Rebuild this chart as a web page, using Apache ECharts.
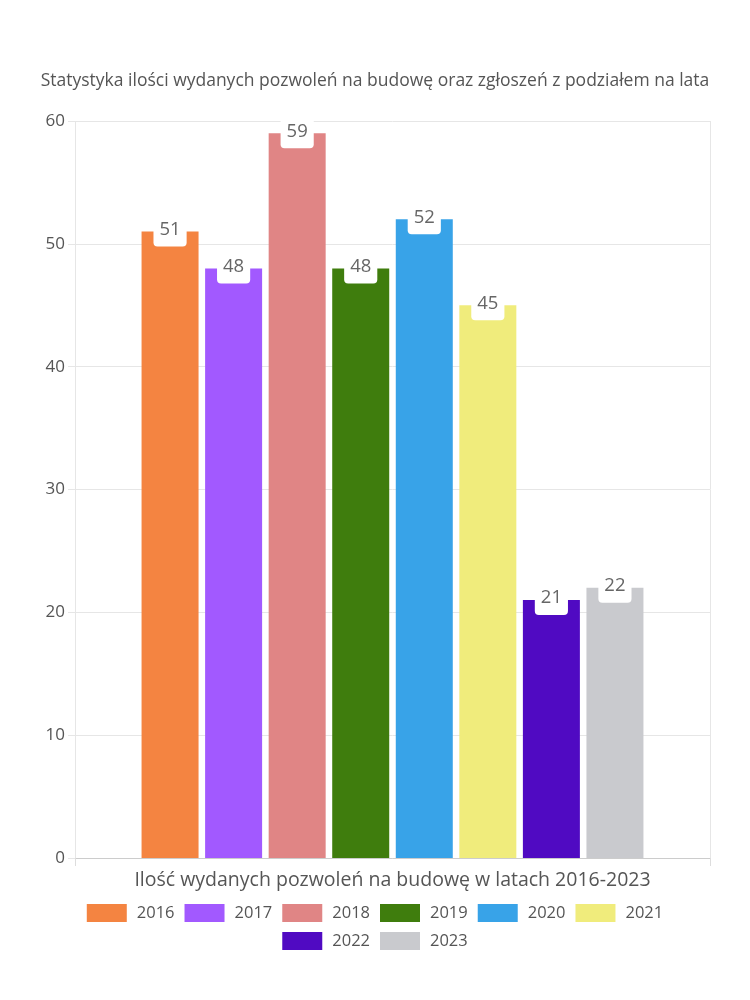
<!DOCTYPE html>
<html>
<head>
<meta charset="utf-8">
<script src="https://cdn.jsdelivr.net/npm/echarts@6/dist/echarts.min.js"></script>
<style>html,body{margin:0;padding:0;background:#fff;}#c{width:750px;height:1000px;}</style>
</head>
<body>
<div id="c"></div>
<script>
const titleText = 'Statystyka ilości wydanych pozwoleń na budowę oraz zgłoszeń z podziałem na lata';
const categories = ['Ilość wydanych pozwoleń na budowę w latach 2016-2023'];
const seriesNames = ['2016', '2017', '2018', '2019', '2020', '2021', '2022', '2023'];
const seriesValues = [51, 48, 59, 48, 52, 45, 21, 22];
const seriesColors = ['#F48441', '#A259FF', '#E08585', '#3F7D0D', '#38A3E8', '#F0EC7C', '#500AC2', '#C9CACE'];
const yTicks = [0, 10, 20, 30, 40, 50, 60];
const legendRow1 = seriesNames.slice(0, 6);
const legendRow2 = seriesNames.slice(6);

const FONT = '"Open Sans", "Noto Sans", sans-serif';
const chart = echarts.init(document.getElementById('c'), null, {renderer: 'canvas'});
const series = seriesNames.map((n, i) => ({
  name: n,
  type: 'bar',
  data: [seriesValues[i]],
  barWidth: 57,
  barGap: '11.5%',
  itemStyle: {color: seriesColors[i]},
  label: {
    show: true,
    position: 'insideTop',
    distance: 0,
    offset: [0, -13],
    color: '#666',
    fontFamily: FONT,
    fontSize: 18.5,
    lineHeight: 18,
    backgroundColor: '#fff',
    padding: [2, 6, 8, 6],
    borderRadius: [0, 0, 4, 4]
  }
}));

const legendCommon = {
  left: 'center',
  itemWidth: 40,
  itemHeight: 18,
  itemGap: 10,
  icon: 'rect',
  textStyle: {color: '#555', fontSize: 16.5, fontFamily: FONT, padding: [0, 0, 0, 5]}
};

chart.setOption({
  animation: false,
  backgroundColor: '#fff',
  title: {
    text: titleText,
    left: 'center',
    top: 67,
    textStyle: {color: '#555', fontSize: 17.5, fontWeight: 'normal', fontFamily: FONT}
  },
  grid: {left: 75, right: 40, top: 121, bottom: 142, containLabel: false},
  legend: [
    Object.assign({data: legendRow1, top: 899}, legendCommon),
    Object.assign({data: legendRow2, top: 927}, legendCommon)
  ],
  xAxis: {
    type: 'category',
    data: categories,
    axisLine: {show: true, lineStyle: {color: '#ccc'}},
    axisTick: {show: true, length: 8, lineStyle: {color: '#ddd'}},
    splitLine: {show: true, lineStyle: {color: '#e6e6e6'}},
    axisLabel: {color: '#555', fontSize: 19.5, fontFamily: FONT, margin: 12}
  },
  yAxis: {
    type: 'value',
    min: 0,
    max: 60,
    interval: 10,
    axisLine: {show: false},
    axisTick: {show: true, length: 7, lineStyle: {color: '#e6e6e6'}},
    splitLine: {show: true, lineStyle: {color: '#e6e6e6'}},
    axisLabel: {
      color: '#555', fontSize: 17, fontFamily: FONT, margin: 10,
      formatter: v => yTicks.includes(v) ? String(v) : ''
    }
  },
  series: series
});
</script>
</body>
</html>
